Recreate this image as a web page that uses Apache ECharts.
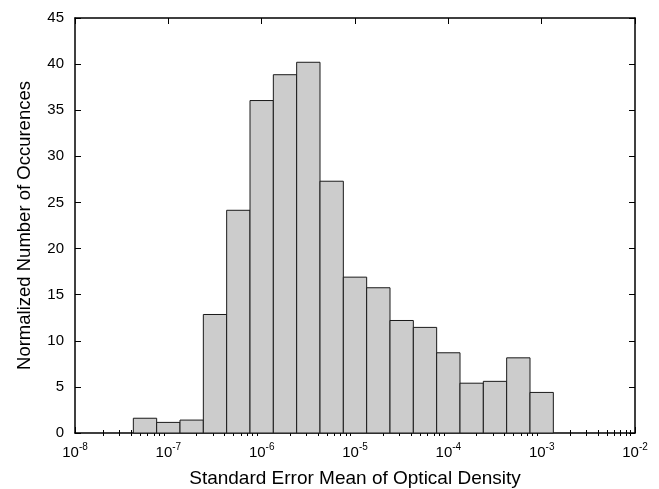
<!DOCTYPE html>
<html>
<head>
<meta charset="utf-8">
<script src="https://cdn.jsdelivr.net/npm/echarts@6/dist/echarts.min.js"></script>
<style>
  html, body { margin: 0; padding: 0; background: #fff; }
  #chart { width: 659px; height: 489px; }
</style>
</head>
<body>
<div id="chart"></div>
<script>
// bin edges of the histogram, as log10 of the x value
const binEdgesLog = [-7.375, -7.125, -6.875, -6.625, -6.375, -6.125, -5.875, -5.625, -5.375,
  -5.125, -4.875, -4.625, -4.375, -4.125, -3.875, -3.625, -3.375, -3.125, -2.875];
// normalized count in each bin
const counts = [1.6, 1.15, 1.4, 12.85, 24.15, 36.05, 38.85, 40.2, 27.3,
  16.9, 15.75, 12.2, 11.45, 8.7, 5.4, 5.6, 8.15, 4.4];
// x axis decades (major ticks) and minor ticks
const majorTicks = [1e-8, 1e-7, 1e-6, 1e-5, 1e-4, 1e-3, 1e-2];
const minorTicks = [];
majorTicks.slice(0, -1).forEach(function (d) {
  for (let k = 2; k <= 9; k++) minorTicks.push(d * k);
});

const barData = counts.map(function (c, i) {
  return [Math.pow(10, binEdgesLog[i]), Math.pow(10, binEdgesLog[i + 1]), c];
});

const font = "'Liberation Sans', Arial, Helvetica, sans-serif";
const tickFont = "'Liberation Sans Narrow', 'Arial Narrow', 'Liberation Sans', sans-serif";
const frame = { show: true, onZero: false, lineStyle: { color: '#000', width: 1.5 } };

function logAxis(pos, withLabels, ticks, len, line) {
  return {
    type: 'log',
    position: pos,
    min: 1e-8,
    max: 1e-2,
    logBase: 10,
    axisLine: line ? frame : { show: false },
    splitLine: { show: false },
    axisTick: { show: true, inside: true, length: len, customValues: ticks,
      lineStyle: { color: '#000', width: 1 } },
    axisLabel: withLabels ? {
      show: true,
      customValues: majorTicks,
      margin: 6,
      formatter: function (v) {
        return '{b|10}{s|' + Math.round(Math.log10(v)) + '}';
      },
      rich: {
        b: { fontSize: 15, fontFamily: tickFont, color: '#000', padding: [6, 0, 0, 0] },
        s: { fontSize: 10, fontFamily: tickFont, color: '#000', padding: [0, 0, 4, 0] }
      }
    } : { show: false }
  };
}

const xBottom = logAxis('bottom', true, majorTicks, 6, true);
xBottom.name = 'Standard Error Mean of Optical Density';
xBottom.nameLocation = 'middle';
xBottom.nameGap = 36;
xBottom.nameTextStyle = { fontSize: 19, fontFamily: font, color: '#000' };

const chart = echarts.init(document.getElementById('chart'));
chart.setOption({
  animation: false,
  grid: { left: 75, right: 24, top: 18, bottom: 56, outerBoundsMode: 'none', containLabel: false },
  xAxis: [
    xBottom,
    logAxis('bottom', false, minorTicks, 3, false),
    logAxis('top', false, majorTicks, 6, true),
    logAxis('top', false, minorTicks, 3, false)
  ],
  yAxis: [
    {
      type: 'value',
      position: 'left',
      min: 0,
      max: 45,
      interval: 5,
      name: 'Normalized Number of Occurences',
      nameLocation: 'middle',
      nameGap: 41,
      nameTextStyle: { fontSize: 18.5, fontFamily: font, color: '#000' },
      axisLine: frame,
      axisTick: { show: true, inside: true, length: 6, lineStyle: { color: '#000' } },
      axisLabel: { fontSize: 15, fontFamily: tickFont, color: '#000', margin: 11 },
      splitLine: { show: false }
    },
    {
      type: 'value',
      position: 'right',
      min: 0,
      max: 45,
      interval: 5,
      axisLine: frame,
      axisTick: { show: true, inside: true, length: 6, lineStyle: { color: '#000' } },
      axisLabel: { show: false },
      splitLine: { show: false }
    }
  ],
  series: [{
    type: 'custom',
    xAxisIndex: 0,
    yAxisIndex: 0,
    encode: { x: [0, 1], y: 2 },
    data: barData,
    renderItem: function (params, api) {
      const p0 = api.coord([api.value(0), 0]);
      const p1 = api.coord([api.value(1), api.value(2)]);
      return {
        type: 'rect',
        shape: { x: p0[0], y: p1[1], width: p1[0] - p0[0], height: p0[1] - p1[1] },
        style: { fill: '#cccccc', stroke: '#1a1a1a', lineWidth: 1 }
      };
    }
  }]
});
</script>
</body>
</html>
